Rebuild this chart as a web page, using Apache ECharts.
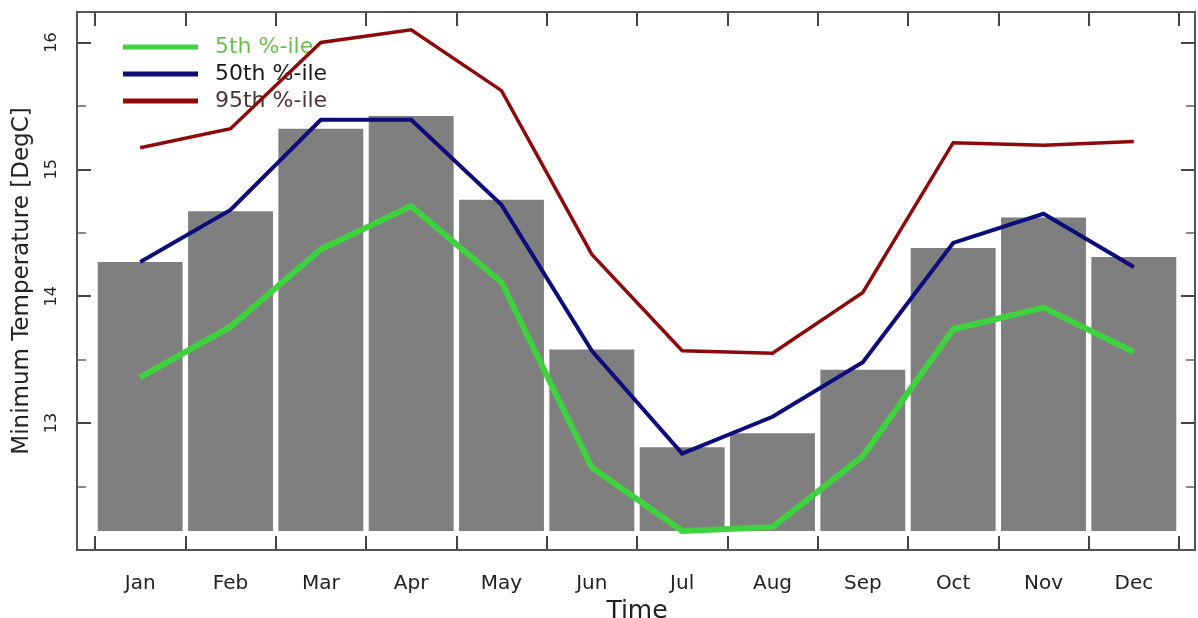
<!DOCTYPE html>
<html>
<head>
<meta charset="utf-8">
<script src="https://cdn.jsdelivr.net/npm/echarts@6/dist/echarts.min.js"></script>
<style>
html,body{margin:0;padding:0;background:#fff;}
#chart{width:1198px;height:618px;}
</style>
</head>
<body>
<div id="chart"></div>
<script>
const months = ['Jan','Feb','Mar','Apr','May','Jun','Jul','Aug','Sep','Oct','Nov','Dec'];
const barValues = [14.27, 14.67, 15.32, 15.42, 14.76, 13.58, 12.81, 12.92, 13.42, 14.38, 14.62, 14.31];
const barBase = 12.15;
const p5  = [13.36, 13.76, 14.37, 14.71, 14.11, 12.65, 12.15, 12.18, 12.74, 13.74, 13.91, 13.56];
const p50 = [14.27, 14.68, 15.39, 15.39, 14.72, 13.57, 12.76, 13.05, 13.48, 14.42, 14.65, 14.23];
const p95 = [15.17, 15.32, 16.00, 16.10, 15.62, 14.33, 13.57, 13.55, 14.03, 15.21, 15.19, 15.22];
const yTickLabels = [13, 14, 15, 16];

const FONT = 'DejaVu Sans';
const chart = echarts.init(document.getElementById('chart'));

const yCommon = {
  type: 'value', min: 12, max: 16.24, interval: 1,
  splitLine: {show: false},
  axisLine: {show: true, lineStyle: {color: '#555', width: 2}},
  axisTick: {show: true, inside: true, length: 14, lineStyle: {color: '#444', width: 2}},
  minorTick: {show: true, splitNumber: 2, length: 9, lineStyle: {color: '#666', width: 1.5}},
  minorSplitLine: {show: false}
};

chart.setOption({
  animation: false,
  backgroundColor: '#fff',
  grid: {left: 95, right: 19, top: 12, bottom: 68, containLabel: false, outerBoundsMode: 'none'},
  graphic: [{
    type: 'rect', shape: {x: 77, y: 12, width: 1118, height: 538},
    style: {fill: 'none', stroke: '#555', lineWidth: 2}, z: 100, silent: true
  }],
  legend: {
    orient: 'vertical', left: 118, top: 31, itemWidth: 75, itemHeight: 5, itemGap: 5,
    icon: 'rect',
    textStyle: {fontFamily: FONT, fontSize: 22, lineHeight: 22, padding: [0, 0, 0, 12]},
    data: [
      {name: '5th %-ile', textStyle: {color: '#6cbf4c'}},
      {name: '50th %-ile', textStyle: {color: '#1a1a1a'}},
      {name: '95th %-ile', textStyle: {color: '#4a3434'}}
    ]
  },
  xAxis: [{
    type: 'category', data: months, position: 'bottom', boundaryGap: true,
    name: 'Time', nameLocation: 'middle', nameGap: 40,
    nameTextStyle: {fontFamily: FONT, fontSize: 25, color: '#222'},
    axisLine: {show: true, lineStyle: {color: '#555', width: 2}},
    axisTick: {show: true, inside: true, length: 14, lineStyle: {color: '#444', width: 2}},
    axisLabel: {fontFamily: FONT, fontSize: 20, color: '#222', margin: 24}
  }, {
    type: 'category', data: months, position: 'top', boundaryGap: true,
    axisLine: {show: true, lineStyle: {color: '#555', width: 2}},
    axisTick: {show: true, inside: true, length: 14, lineStyle: {color: '#444', width: 2}},
    axisLabel: {show: false}
  }],
  yAxis: [Object.assign({}, yCommon, {
    position: 'left', offset: 18,
    name: 'Minimum Temperature [DegC]', nameLocation: 'middle', nameGap: 43,
    nameTextStyle: {fontFamily: FONT, fontSize: 23, color: '#222'},
    axisLabel: {
      show: true, rotate: 90, margin: 17, fontFamily: FONT, fontSize: 16, color: '#222',
      formatter: function (v) { return yTickLabels.indexOf(Math.round(v * 100) / 100) >= 0 ? String(v) : ''; }
    }
  }), Object.assign({}, yCommon, {
    position: 'right', offset: 16,
    axisLabel: {show: false}
  })],
  series: [{
    name: 'base', type: 'bar', stack: 'b', barCategoryGap: '6%',
    data: barValues.map(function () { return barBase; }),
    itemStyle: {color: 'rgba(0,0,0,0)'}, silent: true
  }, {
    name: 'bars', type: 'bar', stack: 'b', barCategoryGap: '6%',
    data: barValues.map(function (v) { return +(v - barBase).toFixed(3); }),
    itemStyle: {color: '#7f7f7f'}
  }, {
    name: '5th %-ile', type: 'line', data: p5, symbol: 'none',
    lineStyle: {color: '#3fd23f', width: 6, join: 'miter'}, itemStyle: {color: '#3fd23f'}, z: 5
  }, {
    name: '50th %-ile', type: 'line', data: p50, symbol: 'none',
    lineStyle: {color: '#0c0c7a', width: 4, join: 'miter'}, itemStyle: {color: '#0c0c7a'}, z: 6
  }, {
    name: '95th %-ile', type: 'line', data: p95, symbol: 'none',
    lineStyle: {color: '#8e0a0a', width: 3.5, join: 'miter'}, itemStyle: {color: '#8e0a0a'}, z: 7
  }]
});
</script>
</body>
</html>
